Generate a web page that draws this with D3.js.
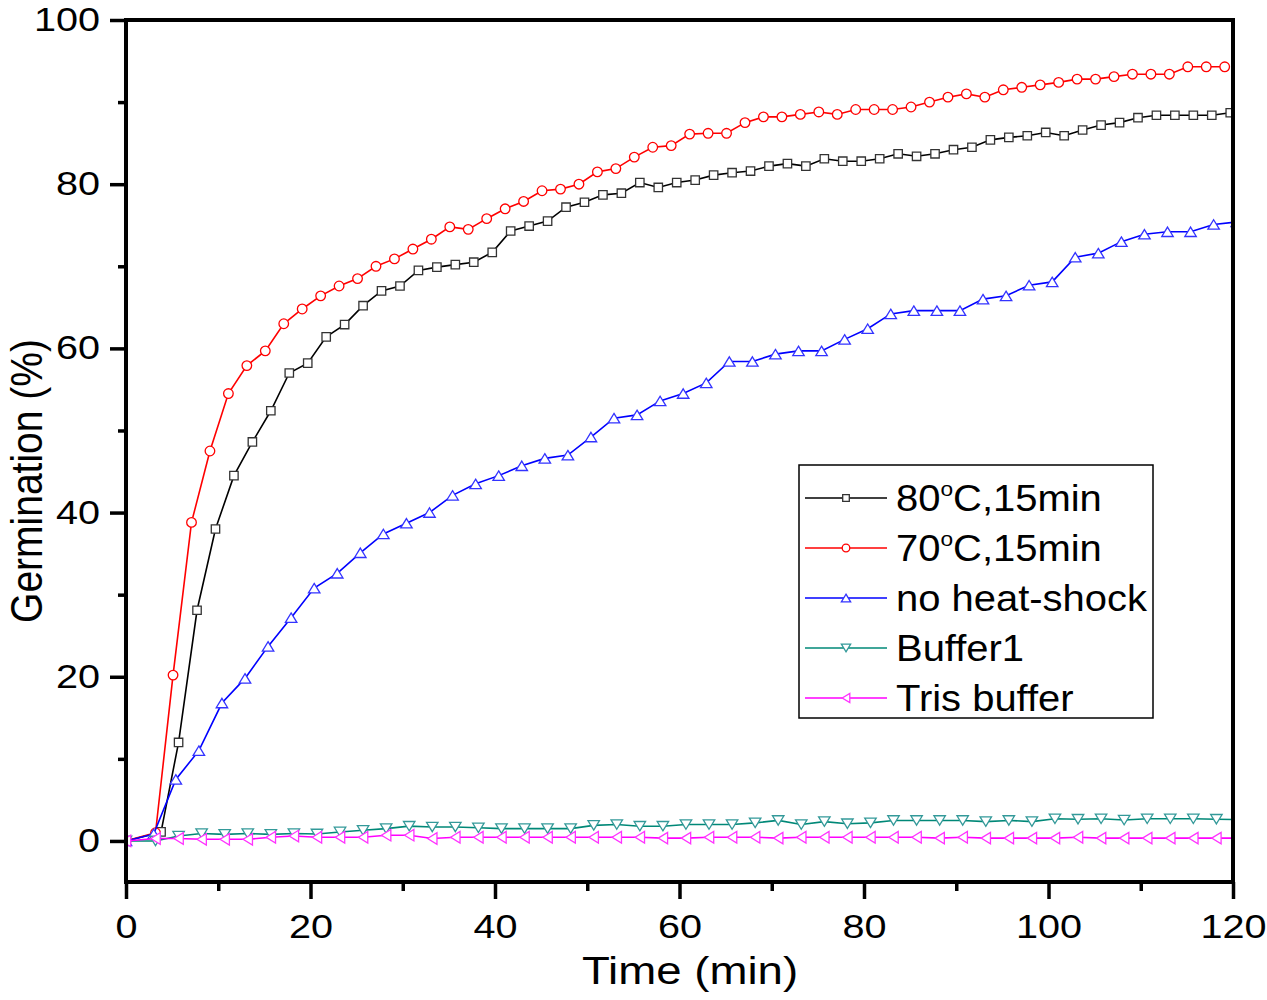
<!DOCTYPE html>
<html>
<head>
<meta charset="utf-8">
<script src="https://d3js.org/d3.v7.min.js"></script>
<style>
  body { margin: 0; background: #fff; }
  text { font-family: "Liberation Sans", Arial, sans-serif; fill: #000; }
</style>
</head>
<body>
<script>
// tick values
var xTicks = [0, 20, 40, 60, 80, 100, 120];
var xMinor = [10, 30, 50, 70, 90, 110];
var yTicks = [0, 20, 40, 60, 80, 100];
var yMinor = [10, 30, 50, 70, 90];

// 80C, 15min (black squares)
var time80 = [0, 3.8, 5.7, 7.7, 9.7, 11.7, 13.7, 15.7, 17.7, 19.7, 21.7, 23.7, 25.7, 27.7, 29.7, 31.7, 33.7, 35.7, 37.7, 39.7,
  41.7, 43.7, 45.7, 47.7, 49.7, 51.7, 53.7, 55.7, 57.7, 59.7, 61.7, 63.7, 65.7, 67.7, 69.7, 71.7, 73.7, 75.7, 77.7, 79.7,
  81.7, 83.7, 85.7, 87.7, 89.7, 91.7, 93.7, 95.7, 97.7, 99.7, 101.7, 103.7, 105.7, 107.7, 109.7, 111.7, 113.7, 115.7, 117.7, 119.7];
var germ80 = [0, 1.1, 12.0, 28.1, 38.0, 44.5, 48.6, 52.4, 57.0, 58.2, 61.4, 62.9, 65.2, 67.0, 67.6, 69.5, 69.9, 70.2, 70.5, 71.7,
  74.3, 74.9, 75.5, 77.2, 77.8, 78.7, 78.9, 80.2, 79.6, 80.2, 80.5, 81.1, 81.4, 81.6, 82.2, 82.5, 82.2, 83.1, 82.8, 82.8,
  83.1, 83.7, 83.4, 83.7, 84.2, 84.5, 85.4, 85.7, 85.9, 86.3, 85.9, 86.6, 87.2, 87.5, 88.1, 88.4, 88.4, 88.4, 88.4, 88.7];

// 70C, 15min (red circles)
var time70 = [0, 3.2, 5.1, 7.1, 9.1, 11.1, 13.1, 15.1, 17.1, 19.1, 21.1, 23.1, 25.1, 27.1, 29.1, 31.1, 33.1, 35.1, 37.1, 39.1,
  41.1, 43.1, 45.1, 47.1, 49.1, 51.1, 53.1, 55.1, 57.1, 59.1, 61.1, 63.1, 65.1, 67.1, 69.1, 71.1, 73.1, 75.1, 77.1, 79.1,
  81.1, 83.1, 85.1, 87.1, 89.1, 91.1, 93.1, 95.1, 97.1, 99.1, 101.1, 103.1, 105.1, 107.1, 109.1, 111.1, 113.1, 115.1, 117.1, 119.1];
var germ70 = [0, 1.0, 20.2, 38.8, 47.5, 54.5, 57.9, 59.7, 63.0, 64.8, 66.4, 67.6, 68.5, 70.0, 70.9, 72.1, 73.3, 74.8, 74.5, 75.8,
  77.0, 77.9, 79.2, 79.4, 80.0, 81.5, 81.9, 83.3, 84.5, 84.7, 86.1, 86.2, 86.2, 87.5, 88.2, 88.2, 88.5, 88.8, 88.5, 89.1,
  89.1, 89.1, 89.4, 90.0, 90.6, 91.0, 90.6, 91.5, 91.8, 92.1, 92.4, 92.8, 92.8, 93.1, 93.4, 93.4, 93.4, 94.3, 94.3, 94.3];

// no heat-shock (blue triangles)
var timeNo = [0, 3.0, 5.4, 7.9, 10.4, 12.9, 15.4, 17.9, 20.4, 22.9, 25.4, 27.9, 30.4, 32.9, 35.4, 37.9, 40.4, 42.9, 45.4, 47.9,
  50.4, 52.9, 55.4, 57.9, 60.4, 62.9, 65.4, 67.9, 70.4, 72.9, 75.4, 77.9, 80.4, 82.9, 85.4, 87.9, 90.4, 92.9, 95.4, 97.9,
  100.4, 102.9, 105.4, 107.9, 110.4, 112.9, 115.4, 117.9, 120.4];
var germNo = [0, 0.85, 7.5, 11.0, 16.8, 19.8, 23.7, 27.2, 30.8, 32.6, 35.1, 37.4, 38.7, 40.0, 42.1, 43.5, 44.5, 45.7, 46.6, 47.0,
  49.2, 51.5, 51.9, 53.6, 54.5, 55.8, 58.4, 58.4, 59.3, 59.7, 59.7, 61.1, 62.4, 64.2, 64.6, 64.6, 64.6, 66.0, 66.4, 67.7,
  68.1, 71.1, 71.6, 73.0, 73.9, 74.2, 74.2, 75.1, 75.4];

// Buffer1 and Tris buffer share the same sampling times
var timeBuf = [0, 3.2, 5.7, 8.2, 10.7, 13.2, 15.7, 18.2, 20.7, 23.2, 25.7, 28.2, 30.7, 33.2, 35.7, 38.2, 40.7, 43.2, 45.7, 48.2,
  50.7, 53.2, 55.7, 58.2, 60.7, 63.2, 65.7, 68.2, 70.7, 73.2, 75.7, 78.2, 80.7, 83.2, 85.7, 88.2, 90.7, 93.2, 95.7, 98.2,
  100.7, 103.2, 105.7, 108.2, 110.7, 113.2, 115.7, 118.2, 120.7];
var germBuf1 = [0, 0.0, 0.6, 0.9, 0.8, 0.9, 0.8, 0.9, 0.85, 1.1, 1.3, 1.5, 1.8, 1.7, 1.7, 1.6, 1.5, 1.5, 1.5, 1.5,
  1.9, 2.0, 1.8, 1.8, 2.0, 2.0, 2.0, 2.2, 2.5, 2.0, 2.35, 2.1, 2.2, 2.5, 2.5, 2.5, 2.5, 2.35, 2.5, 2.35,
  2.7, 2.65, 2.7, 2.55, 2.7, 2.7, 2.7, 2.65, 2.6];
var germTris = [0, 0.3, 0.3, 0.2, 0.2, 0.2, 0.45, 0.6, 0.45, 0.45, 0.45, 0.7, 0.7, 0.3, 0.45, 0.45, 0.45, 0.45, 0.45, 0.45,
  0.45, 0.45, 0.45, 0.35, 0.35, 0.45, 0.45, 0.45, 0.35, 0.45, 0.45, 0.45, 0.45, 0.45, 0.45, 0.35, 0.45, 0.35, 0.35, 0.35,
  0.35, 0.45, 0.35, 0.35, 0.35, 0.35, 0.35, 0.35, 0.35];

var seriesNames = ["80C,15min", "70C,15min", "no heat-shock", "Buffer1", "Tris buffer"];

window.onload = function(){
	var w = 1267, h = 1000;
	var left = 126, right = 1233, top = 20, bottom = 882;

	var svg = d3.select("body").append("svg")
		.attr("width", w)
		.attr("height", h);

	var x = d3.scaleLinear().domain([0, 120]).range([left, right]);
	var y = d3.scaleLinear().domain([-5, 100]).range([bottom, top]);

	// marker shapes, centred on the data point
	function marker(shape, s){
		if (shape == "square") return "M" + (-s) + "," + (-s) + "h" + (2 * s) + "v" + (2 * s) + "h" + (-2 * s) + "Z";
		if (shape == "circle") return "M" + (-s) + ",0a" + s + "," + s + " 0 1,0 " + (2 * s) + ",0a" + s + "," + s + " 0 1,0 " + (-2 * s) + ",0Z";
		var a = s * 1.22, b = s;
		if (shape == "up") return "M0," + (-b) + "L" + a + "," + b + "L" + (-a) + "," + b + "Z";
		if (shape == "down") return "M0," + b + "L" + a + "," + (-b) + "L" + (-a) + "," + (-b) + "Z";
		return "M" + (-b) + ",0L" + b + "," + (-a) + "L" + b + "," + a + "Z"; // left
	}

	var series = [
		{ name: seriesNames[0], t: time80, v: germ80, color: "#000000", mcolor: "#333333", shape: "square", size: 4.2 },
		{ name: seriesNames[1], t: time70, v: germ70, color: "#ff0000", mcolor: "#ff0000", shape: "circle", size: 4.8 },
		{ name: seriesNames[2], t: timeNo, v: germNo, color: "#0000ff", mcolor: "#3333ff", shape: "up", size: 4.7 },
		{ name: seriesNames[3], t: timeBuf, v: germBuf1, color: "#008877", mcolor: "#339999", shape: "down", size: 4.7 },
		{ name: seriesNames[4], t: timeBuf, v: germTris, color: "#ff00ff", mcolor: "#ff33ff", shape: "left", size: 4.7 }
	];

	svg.append("clipPath").attr("id", "plotclip")
		.append("rect")
		.attr("x", left).attr("y", top)
		.attr("width", right - left).attr("height", bottom - top);

	var plot = svg.append("g").attr("clip-path", "url(#plotclip)");

	var line = d3.line()
		.x(function(d){ return x(d[0]); })
		.y(function(d){ return y(d[1]); });

	series.forEach(function(s){
		var pts = s.t.map(function(t, i){ return [t, s.v[i]]; });
		plot.append("path")
			.datum(pts)
			.attr("d", line)
			.attr("fill", "none")
			.attr("stroke", s.color)
			.attr("stroke-width", 1.6);
		plot.selectAll(null)
			.data(pts)
			.enter()
			.append("path")
			.attr("transform", function(d){ return "translate(" + x(d[0]) + "," + y(d[1]) + ")"; })
			.attr("d", marker(s.shape, s.size))
			.attr("fill", "#fff")
			.attr("stroke", s.mcolor)
			.attr("stroke-width", 1.3);
	});

	// axes
	var xAxis = svg.append("g")
		.attr("transform", "translate(0," + bottom + ")")
		.call(d3.axisBottom(x).tickValues(xTicks).tickSize(17).tickSizeOuter(0));
	xAxis.select(".domain").remove();
	xAxis.selectAll("line").attr("stroke-width", 3.5);
	xAxis.selectAll("text")
		.attr("y", 56).attr("dy", 0)
		.attr("transform", "scale(1.2,1)")
		.style("font-size", "33px")
		.style("font-family", "'Liberation Sans', Arial, sans-serif");

	var xMin = svg.append("g")
		.attr("transform", "translate(0," + bottom + ")")
		.call(d3.axisBottom(x).tickValues(xMinor).tickSize(9).tickFormat(""));
	xMin.select(".domain").remove();
	xMin.selectAll("line").attr("stroke-width", 3.5);

	var yAxis = svg.append("g")
		.attr("transform", "translate(" + left + ",0)")
		.call(d3.axisLeft(y).tickValues(yTicks).tickSize(16).tickSizeOuter(0));
	yAxis.select(".domain").remove();
	yAxis.selectAll("line").attr("stroke-width", 3.5);
	yAxis.selectAll("text")
		.attr("x", -26 / 1.2)
		.attr("transform", "scale(1.2,1)")
		.style("font-size", "33px")
		.style("font-family", "'Liberation Sans', Arial, sans-serif");

	var yMin = svg.append("g")
		.attr("transform", "translate(" + left + ",0)")
		.call(d3.axisLeft(y).tickValues(yMinor).tickSize(8).tickFormat(""));
	yMin.select(".domain").remove();
	yMin.selectAll("line").attr("stroke-width", 3.5);

	// frame
	svg.append("rect")
		.attr("x", left).attr("y", top)
		.attr("width", right - left).attr("height", bottom - top)
		.attr("fill", "none")
		.attr("stroke", "#000")
		.attr("stroke-width", 4);

	// axis titles
	svg.append("text")
		.attr("transform", "translate(690,984) scale(1.2,1)")
		.attr("text-anchor", "middle")
		.style("font-size", "38px")
		.text("Time (min)");

	svg.append("text")
		.attr("transform", "translate(42,481) rotate(-90) scale(1,1.12)")
		.attr("text-anchor", "middle")
		.style("font-size", "39px")
		.text("Germination (%)");

	// legend
	var legend = svg.append("g");
	legend.append("rect")
		.attr("x", 799).attr("y", 465)
		.attr("width", 354).attr("height", 253)
		.attr("fill", "#fff")
		.attr("stroke", "#000")
		.attr("stroke-width", 1.5);

	series.forEach(function(s, i){
		var ly = 498 + i * 50;
		legend.append("line")
			.attr("x1", 805).attr("x2", 887)
			.attr("y1", ly).attr("y2", ly)
			.attr("stroke", s.color)
			.attr("stroke-width", 1.5);
		legend.append("path")
			.attr("transform", "translate(846," + ly + ")")
			.attr("d", marker(s.shape, s.shape == "square" ? 3.3 : 3.8))
			.attr("fill", "#fff")
			.attr("stroke", s.mcolor)
			.attr("stroke-width", 1.3);

		var t = legend.append("text")
			.attr("transform", "translate(896," + (ly + 13) + ") scale(1.08,1)")
			.style("font-size", "37px");
		if (s.name.indexOf("C,") > 0) {
			// degree sign drawn as a raised small "o"
			t.append("tspan").text(s.name.slice(0, 2));
			t.append("tspan").attr("dy", -15).style("font-size", "21px").text("o");
			t.append("tspan").attr("dy", 15).text(s.name.slice(2));
		} else {
			t.text(s.name);
		}
	});
};
</script>
</body>
</html>
